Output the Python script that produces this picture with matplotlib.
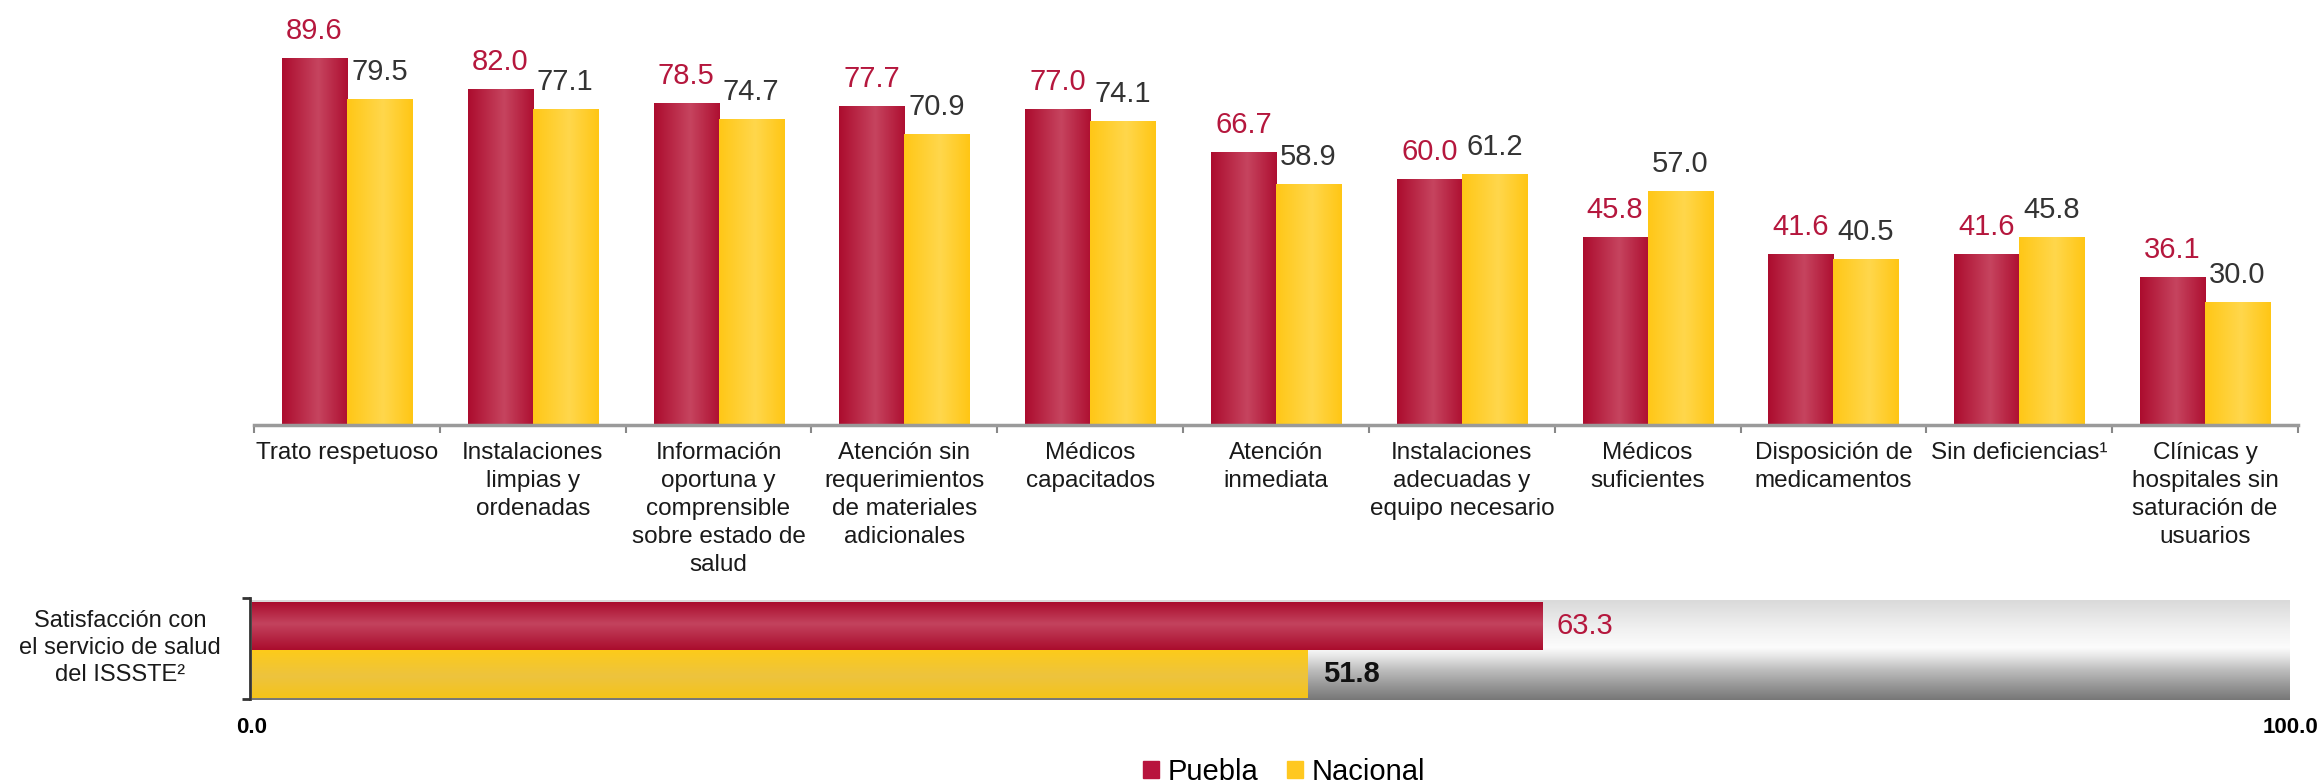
import matplotlib
matplotlib.use("Agg")
import matplotlib.pyplot as plt
import matplotlib.patches as patches
from matplotlib.colors import LinearSegmentedColormap
import numpy as np

plt.rcParams['font.family'] = ['Liberation Sans', 'DejaVu Sans']

# ---------------- data ----------------
categories = ["Trato respetuoso",
              "Instalaciones\nlimpias y\nordenadas",
              "Información\noportuna y\ncomprensible\nsobre estado de\nsalud",
              "Atención sin\nrequerimientos\nde materiales\nadicionales",
              "Médicos\ncapacitados",
              "Atención\ninmediata",
              "Instalaciones\nadecuadas y\nequipo necesario",
              "Médicos\nsuficientes",
              "Disposición de\nmedicamentos",
              "Sin deficiencias¹",
              "Clínicas y\nhospitales sin\nsaturación de\nusuarios"]
puebla = [89.6, 82.0, 78.5, 77.7, 77.0, 66.7, 60.0, 45.8, 41.6, 41.6, 36.1]
nacional = [79.5, 77.1, 74.7, 70.9, 74.1, 58.9, 61.2, 57.0, 40.5, 45.8, 30.0]

sat_label = "Satisfacción con\nel servicio de salud\ndel ISSSTE²"
sat_puebla = 63.3
sat_nacional = 51.8
series_names = ["Puebla", "Nacional"]

red = "#B3123A"
yellow = "#FFC820"
red_txt = "#B5173D"
gray_txt = "#333333"

red_h = LinearSegmentedColormap.from_list("rh", [(0, "#AC0C2E"), (0.55, "#C6445F"), (1, "#AE0F31")])
yel_h = LinearSegmentedColormap.from_list("yh", [(0, "#FFC716"), (0.55, "#FFD74C"), (1, "#FFC614")])
red_v = LinearSegmentedColormap.from_list("rv", [(0, "#AA0C2D"), (0.55, "#C3435E"), (1, "#AA0C2D")])
yel_v = LinearSegmentedColormap.from_list("yv", [(0, "#F5C419"), (0.45, "#EDC33E"), (1, "#FDCB1A")])
bg_v = LinearSegmentedColormap.from_list("bg", [(0, "#777777"), (0.15, "#999999"), (0.3, "#BEBEBE"),
                                                (0.45, "#EBEBEB"), (0.52, "#FCFCFC"), (0.7, "#F1F1F1"),
                                                (1, "#D9D9D9")])


def fill_gradient(ax, bar, cmap, horizontal=True):
    x0, y0 = bar.get_x(), bar.get_y()
    w, h = bar.get_width(), bar.get_height()
    g = np.linspace(0, 1, 256)
    arr = g[None, :] if horizontal else g[:, None]
    im = ax.imshow(arr, cmap=cmap, extent=(x0, x0 + w, y0, y0 + h), origin='lower',
                   aspect='auto', interpolation='bicubic', zorder=bar.get_zorder() + 0.1)
    im.set_clip_path(bar)


fig = plt.figure(figsize=(23.23, 7.83), dpi=100)

# ================= top: grouped bars =================
ax = fig.add_axes([254 / 2323, 1 - 425 / 783, (2298 - 254) / 2323, (425 - 15) / 783])
x = np.arange(len(categories))
w = 0.35
b1 = ax.bar(x - w / 2, puebla, w, color=red, zorder=2)
b2 = ax.bar(x + w / 2, nacional, w, color=yellow, zorder=2)
for b in b1:
    fill_gradient(ax, b, red_h)
for b in b2:
    fill_gradient(ax, b, yel_h)

for b, v in zip(b1, puebla):
    ax.annotate(f"{v:.1f}", (b.get_x() + b.get_width() / 2, v), xytext=(0, 19),
                textcoords='offset pixels', ha='center', va='baseline',
                fontsize=21, color=red_txt)
for b, v in zip(b2, nacional):
    ax.annotate(f"{v:.1f}", (b.get_x() + b.get_width() / 2, v), xytext=(0, 19),
                textcoords='offset pixels', ha='center', va='baseline',
                fontsize=21, color=gray_txt)

ax.set_xlim(-0.5, len(categories) - 0.5)
ax.set_ylim(0, 100)
for s in ['top', 'right', 'left']:
    ax.spines[s].set_visible(False)
ax.spines['bottom'].set_color('#9A9A9A')
ax.spines['bottom'].set_linewidth(2.5)
ax.set_yticks([])
ax.set_xticks(x)
ax.set_xticklabels(categories, fontsize=17.5, color='#1a1a1a', linespacing=1.36)
ax.tick_params(axis='x', which='major', length=0, pad=12)
ax.set_xticks(np.arange(len(categories) + 1) - 0.5, minor=True)
ax.tick_params(axis='x', which='minor', length=6, width=1.5, color='#888888', direction='out')
ax.patch.set_visible(False)

# ================= bottom: satisfaction bars =================
ax2 = fig.add_axes([252 / 2323, 1 - 699.4 / 783, (2290 - 252) / 2323, (699.4 - 598.2) / 783])
bg = ax2.barh([0.5], [100], height=2.1, color='#DDDDDD', zorder=1)
fill_gradient(ax2, bg[0], bg_v, horizontal=False)
r = ax2.barh([1], [sat_puebla], height=1.0, color=red, zorder=2)
yb = ax2.barh([0], [sat_nacional], height=1.0, color=yellow, zorder=2)
fill_gradient(ax2, r[0], red_v, horizontal=False)
fill_gradient(ax2, yb[0], yel_v, horizontal=False)

ax2.annotate(f"{sat_puebla:.1f}", (sat_puebla, 1), xytext=(14, 0), textcoords='offset pixels',
             ha='left', va='center', fontsize=21, color=red_txt, zorder=5)
ax2.annotate(f"{sat_nacional:.1f}", (sat_nacional, 0), xytext=(15, 0), textcoords='offset pixels',
             ha='left', va='center', fontsize=21, fontweight='bold', color='#111111', zorder=5)

ax2.set_xlim(0, 100)
ax2.set_ylim(-0.53, 1.58)
for s in ['top', 'right', 'bottom']:
    ax2.spines[s].set_visible(False)
ax2.spines['left'].set_color('#333333')
ax2.spines['left'].set_linewidth(2)
ax2.spines['left'].set_position(('outward', 1.5))
ax2.set_yticks([-0.53, 1.58])
ax2.set_yticklabels([])
ax2.tick_params(axis='y', length=6, width=2, color='#333333', direction='out')
ax2.set_xticks([0, 100])
ax2.set_xticklabels(["0.0", "100.0"], fontsize=16, fontweight='bold')
ax2.tick_params(axis='x', length=0, pad=13)
ax2.patch.set_visible(False)

fig.text(120 / 2323, 1 - 648 / 783, sat_label, ha='center', va='center',
         fontsize=17, linespacing=1.3, color='#1a1a1a')

# legend
handles = [patches.Patch(color="#B8143E"), patches.Patch(color="#FFC820")]
fig.legend(handles, series_names, loc='center', bbox_to_anchor=(1284 / 2323, 1 - 772 / 783),
           ncol=2, frameon=False, fontsize=21, handlelength=0.55, handleheight=0.55,
           handletextpad=0.3, columnspacing=1.0, borderaxespad=0, borderpad=0)

fig.savefig('out.png', dpi=100)
